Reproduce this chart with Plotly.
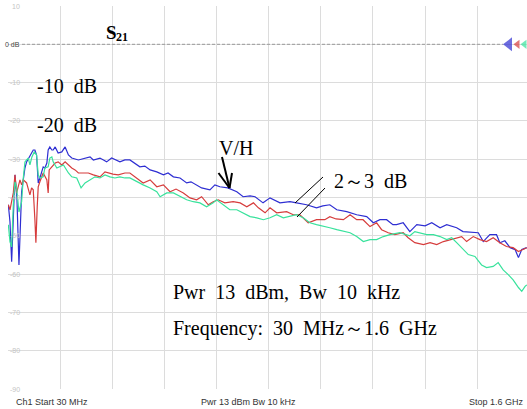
import plotly.graph_objects as go

# S21 transmission sweep, 30 MHz .. 1.6 GHz (three measured traces)
freq_blue = [31, 36, 41, 46, 51, 57, 63, 71, 81, 86, 96, 101, 106, 111, 116, 121, 126, 136, 141, 147,
             151, 156, 162, 166, 172, 181, 192, 202, 212, 222, 242, 262, 277, 287, 307, 327, 342, 367,
             382, 397, 412, 427, 442, 458, 478, 498, 512, 528, 548, 568, 581, 598, 613, 638, 653, 668,
             692, 719, 738, 759, 774, 798, 819, 849, 879, 899, 929, 959, 978, 999, 1020, 1050, 1080,
             1110, 1130, 1150, 1170, 1189, 1200, 1220, 1240, 1261, 1286, 1306, 1331, 1351, 1381, 1400,
             1421, 1446, 1461, 1481, 1501, 1511, 1526, 1542, 1557, 1567, 1577, 1592]
s21_blue = [-41.9, -46.4, -56.8, -45.3, -34.1, -40.6, -57.6, -38.5, -32.3, -30.7, -29.4, -28.4, -27.6,
            -27.6, -28.9, -36.2, -34.9, -32.0, -32.3, -31.0, -27.6, -26.8, -27.6, -27.6, -26.8, -28.4,
            -28.1, -26.8, -28.9, -29.7, -30.2, -29.7, -29.4, -30.2, -29.7, -30.7, -29.7, -30.7, -30.2,
            -30.2, -31.0, -32.0, -31.8, -32.8, -33.3, -34.1, -33.6, -34.6, -34.9, -36.2, -35.9, -36.7,
            -37.5, -38.0, -36.7, -37.2, -37.5, -38.5, -39.8, -39.6, -39.8, -41.4, -40.1, -41.4, -41.1,
            -41.4, -41.9, -42.7, -42.2, -41.9, -43.2, -43.7, -44.5, -45.0, -46.6, -45.8, -45.8, -47.1,
            -47.1, -46.6, -48.9, -47.1, -47.4, -46.6, -47.9, -47.1, -47.9, -48.9, -49.0, -49.2, -51.5,
            -49.7, -49.7, -51.8, -51.3, -53.1, -53.6, -55.7, -53.6, -53.1]

freq_red = [31, 36, 46, 51, 56, 66, 71, 76, 86, 96, 101, 106, 111, 114, 118, 121, 126, 136, 147, 151,
            154, 162, 172, 181, 192, 202, 212, 222, 232, 242, 257, 272, 287, 307, 322, 332, 346, 362,
            382, 397, 418, 437, 458, 478, 498, 518, 536, 558, 578, 598, 613, 633, 648, 663, 683, 708,
            729, 749, 769, 784, 804, 819, 839, 869, 889, 909, 934, 959, 984, 999, 1018, 1040, 1060,
            1080, 1099, 1120, 1140, 1155, 1175, 1195, 1220, 1235, 1255, 1281, 1301, 1321, 1341, 1366,
            1396, 1411, 1431, 1451, 1471, 1491, 1511, 1531, 1551, 1567, 1582, 1592]
s21_red = [-41.9, -43.2, -38.8, -34.1, -38.8, -35.4, -36.7, -35.4, -36.2, -39.3, -37.5, -38.0, -45.8,
           -51.8, -42.4, -37.2, -35.9, -33.6, -35.4, -38.8, -32.8, -32.0, -31.0, -30.7, -31.5, -30.7,
           -31.5, -32.3, -32.8, -33.6, -33.6, -33.6, -34.1, -34.6, -33.3, -33.6, -33.9, -34.1, -33.6,
           -33.6, -34.9, -36.2, -35.4, -37.2, -36.7, -38.5, -37.8, -38.8, -40.1, -40.6, -39.8, -41.9,
           -41.1, -40.6, -41.4, -41.1, -41.4, -42.4, -41.4, -42.7, -44.0, -42.7, -44.0, -43.7, -44.5,
           -44.5, -46.6, -45.8, -45.8, -45.0, -45.6, -45.8, -44.5, -45.8, -45.8, -47.6, -46.6, -48.4,
           -49.2, -49.7, -49.2, -50.5, -51.8, -52.3, -51.8, -52.3, -51.5, -51.0, -50.2, -51.5, -50.2,
           -51.0, -51.5, -50.5, -51.8, -52.8, -53.1, -54.1, -53.6, -53.1]

freq_green = [31, 36, 41, 46, 51, 56, 63, 71, 76, 81, 86, 91, 96, 102, 109, 116, 121, 126, 136, 141,
              151, 156, 162, 166, 177, 187, 197, 212, 222, 237, 250, 262, 277, 292, 307, 322, 337, 352,
              367, 382, 397, 418, 437, 458, 478, 488, 508, 528, 548, 568, 588, 608, 628, 648, 658, 678,
              698, 719, 739, 759, 779, 799, 819, 839, 859, 879, 899, 919, 939, 959, 979, 999, 1020,
              1040, 1060, 1080, 1100, 1120, 1140, 1160, 1180, 1210, 1225, 1240, 1255, 1271, 1291, 1311,
              1331, 1351, 1366, 1381, 1396, 1416, 1436, 1456, 1471, 1491, 1506, 1521, 1537, 1551, 1567,
              1577, 1587, 1592]
s21_green = [-47.1, -51.6, -52.9, -41.9, -35.9, -37.5, -43.8, -41.1, -34.9, -30.7, -30.2, -29.7, -31.5,
             -29.4, -28.1, -28.9, -34.1, -34.9, -34.6, -32.3, -32.0, -29.7, -29.4, -30.7, -32.3, -32.0,
             -31.5, -33.6, -34.6, -34.9, -37.5, -36.2, -35.4, -34.6, -34.9, -34.1, -34.6, -34.9, -34.6,
             -34.9, -34.9, -35.9, -36.7, -37.5, -38.5, -39.8, -38.8, -38.8, -39.8, -40.6, -41.1, -41.4,
             -42.4, -41.4, -40.6, -41.9, -43.2, -43.2, -44.0, -45.0, -45.3, -45.8, -45.3, -44.5, -45.3,
             -45.0, -44.5, -45.3, -46.6, -47.1, -47.6, -47.9, -48.4, -48.9, -49.2, -50.2, -51.5, -51.0,
             -51.0, -50.2, -49.7, -49.2, -49.7, -50.0, -48.9, -49.2, -49.7, -49.7, -50.2, -51.0, -50.5,
             -51.8, -53.1, -54.9, -55.4, -57.6, -58.3, -58.0, -57.0, -58.9, -60.2, -61.5, -63.5, -64.5,
             -63.2, -62.8]

y_ticks = [10, 0, -10, -20, -30, -40, -50, -60, -70, -80, -90]
y_tick_text = ["10", "0 dB", "-10", "-20", "-30", "-40", "-50", "-60", "-70", "-80", "-90"]
f_start, f_stop, n_div = 30, 1600, 10
x_grid = [f_start + k * (f_stop - f_start) / n_div for k in range(n_div)]

BLUE, RED, GREEN = "#2e2ed2", "#d63c3c", "#38e29c"
SERIF = "Liberation Serif"
SANS = "Liberation Sans"

W, H = 527, 409
ML, MR, MT, MB = 8, 0, 6, 20
PW, PH = W - ML - MR, H - MT - MB
x_span = (f_stop - f_start) * PW / 521.4


def px(x):
    return (x - ML) / PW


def py(y):
    return 1 - (y - MT) / PH


fig = go.Figure()
for f, s, c in [(freq_blue, s21_blue, BLUE), (freq_red, s21_red, RED), (freq_green, s21_green, GREEN)]:
    fig.add_trace(go.Scatter(x=f, y=s, mode="lines", line=dict(color=c, width=1.2),
                             hoverinfo="skip", showlegend=False))

# reference-level markers at 0 dB on the right edge
ref_x = [f_start + x_span * px(509), f_start + x_span * px(517.5), f_start + x_span * px(524.5)]
fig.add_trace(go.Scatter(x=ref_x, y=[0, 0, 0], mode="markers", cliponaxis=False,
                         marker=dict(symbol="triangle-left", size=[12, 8, 8],
                                     color=[BLUE, RED, GREEN], line=dict(width=0)),
                         hoverinfo="skip", showlegend=False))

shapes = [
    dict(type="line", xref="paper", yref="y", x0=px(22), x1=px(503), y0=0, y1=0,
         line=dict(color="#9a9a9a", width=1, dash="3px,2px")),
    # V/H arrow
    dict(type="line", xref="paper", yref="paper", x0=px(222), y0=py(157), x1=px(229.5), y1=py(188),
         line=dict(color="black", width=2)),
    dict(type="line", xref="paper", yref="paper", x0=px(218.5), y0=py(173), x1=px(229.5), y1=py(188),
         line=dict(color="black", width=2)),
    dict(type="line", xref="paper", yref="paper", x0=px(232), y0=py(173), x1=px(229.5), y1=py(188),
         line=dict(color="black", width=2)),
    # 2~3 dB gap leaders
    dict(type="line", xref="paper", yref="paper", x0=px(323), y0=py(177), x1=px(295), y1=py(203),
         line=dict(color="black", width=1)),
    dict(type="line", xref="paper", yref="paper", x0=px(325), y0=py(188), x1=px(297), y1=py(217),
         line=dict(color="black", width=1)),
]

ann = []
for v, t in zip(y_ticks, y_tick_text):
    ann.append(dict(x=px(22), y=v, xref="paper", yref="y", text=t, showarrow=False,
                    xanchor="right", yanchor="middle",
                    font=dict(family=SANS, size=7,
                              color="#444444" if v == 0 else "#c4c4c4")))


def label(x, y, text, size=20, anchor="left", family=SERIF, color="black"):
    ann.append(dict(x=px(x), y=py(y), xref="paper", yref="paper", text=text, showarrow=False,
                    xanchor=anchor, yanchor="middle",
                    font=dict(family=family, size=size, color=color)))


# S21 title: "S" with a lowered "21"
label(104, 32, "<b>S</b>", size=19)
label(114, 37, "<b>21</b>", size=12)
label(35, 86, "-10  dB")
label(35, 125, "-20  dB")
label(217, 148, "V/H")
label(332, 181, "2～3  dB")
label(171, 292, "Pwr  13  dBm,  Bw  10  kHz")
label(171, 328, "Frequency:  30  MHz～1.6  GHz")
label(14, 402, "Ch1 Start 30 MHz", size=9, family=SANS, color="#333333")
label(199, 402, "Pwr 13 dBm Bw 10 kHz", size=9, family=SANS, color="#333333")
label(526, 402, "Stop 1.6 GHz", size=9, anchor="right", family=SANS, color="#333333")

fig.update_layout(
    width=W, height=H, margin=dict(l=ML, r=MR, t=MT, b=MB, pad=0),
    paper_bgcolor="white", plot_bgcolor="white",
    xaxis=dict(range=[f_start, f_start + x_span], tickvals=x_grid, showticklabels=False,
               showgrid=True, gridcolor="#dcdcdc", gridwidth=1, zeroline=False, showline=False,
               ticks=""),
    yaxis=dict(range=[-90, 10], tickvals=y_ticks, showticklabels=False, showgrid=True,
               gridcolor="#dcdcdc", gridwidth=1, zeroline=False, showline=False, ticks=""),
    shapes=shapes, annotations=ann,
)

fig.write_html("out.html")
